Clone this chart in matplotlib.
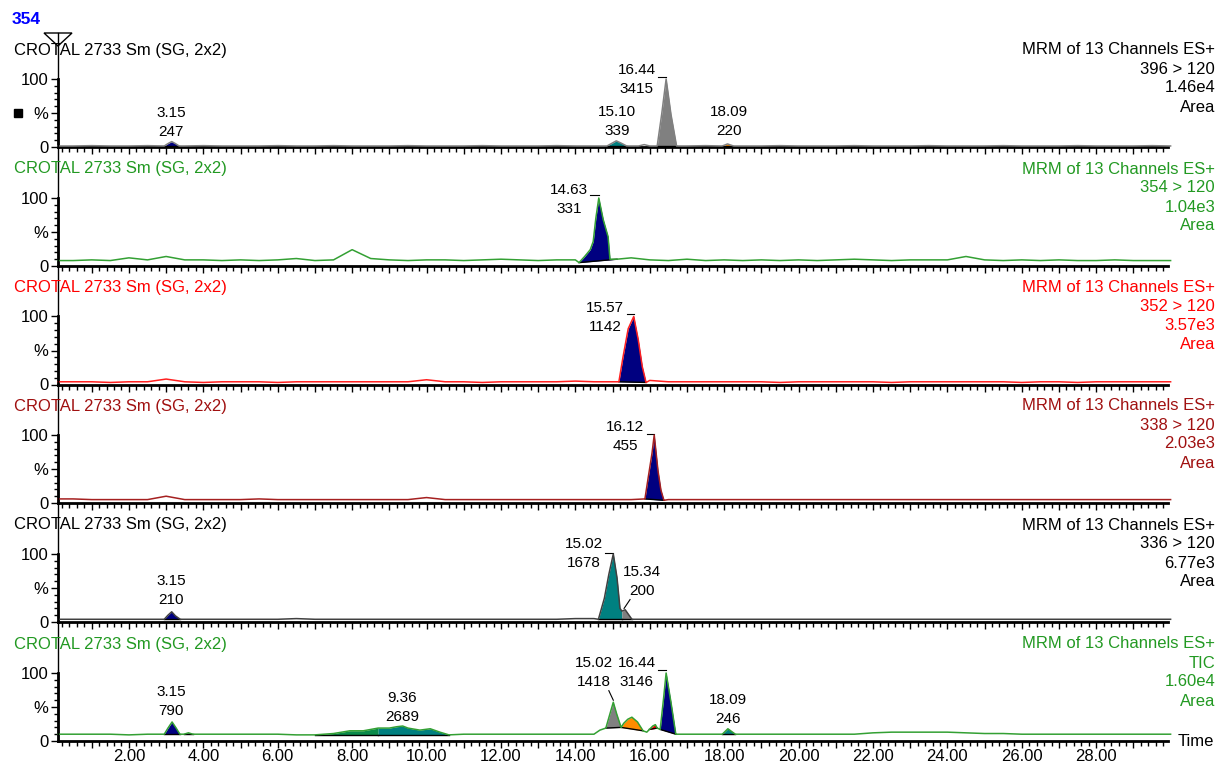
import matplotlib
matplotlib.use('Agg')
import matplotlib.pyplot as plt
from matplotlib.ticker import MultipleLocator, FuncFormatter
import numpy as np

plt.rcParams['font.family'] = ['Liberation Sans', 'DejaVu Sans']
plt.rcParams['font.size'] = 12

# DATA

time_grid = [0.1, 0.5, 1.0, 1.5, 2.0, 2.5, 3.0, 3.5, 4.0, 4.5,
             5.0, 5.5, 6.0, 6.5, 7.0, 7.5, 8.0, 8.5, 9.0, 9.5,
             10.0, 10.5, 11.0, 11.5, 12.0, 12.5, 13.0, 13.5, 14.0, 14.5,
             15.0, 15.5, 16.0, 16.5, 17.0, 17.5, 18.0, 18.5, 19.0, 19.5,
             20.0, 20.5, 21.0, 21.5, 22.0, 22.5, 23.0, 23.5, 24.0, 24.5,
             25.0, 25.5, 26.0, 26.5, 27.0, 27.5, 28.0, 28.5, 29.0, 29.5,
             30.0]

sample_name = 'CROTAL 2733 Sm (SG, 2x2)'
scan_name = 'MRM of 13 Channels ES+'

# panel 1: 396 > 120
p1_base = [1.5, 1.5, 2, 1.5, 1.5, 2, 1.5, 1.5, 2, 1.5,
           1.5, 1.5, 2, 1.5, 1.5, 2, 1.5, 1.5, 1.5, 2,
           1.5, 1.5, 1.5, 2, 1.5, 1.5, 1.5, 2, 1.5, 1.5,
           1.5, 1.5, 1.5, 1.5, 1.5, 2, 1.5, 1.5, 1.5, 2,
           1.5, 1.5, 1.5, 2, 1.5, 1.5, 1.5, 2, 1.5, 1.5,
           1.5, 2, 1.5, 1.5, 1.5, 2, 1.5, 1.5, 1.5, 2,
           1.5]
p1_peaks = [([2.95, 3.05, 3.15, 3.25, 3.35], [1.5, 5, 8, 5, 1.5]),
            ([14.85, 15.0, 15.1, 15.22, 15.38], [1.5, 6, 9, 6, 1.5]),
            ([15.7, 15.85, 16.0], [1.5, 3.5, 1.5]),
            ([16.2, 16.32, 16.44, 16.57, 16.72], [1.5, 48, 100, 48, 1.5]),
            ([17.95, 18.09, 18.25], [1.5, 4.5, 1.5])]
p1_rt = ['3.15', '15.10', '16.44', '18.09']
p1_area = ['247', '339', '3415', '220']

# panel 2: 354 > 120
p2_base = [8, 8, 9, 8, 12, 9, 14, 9, 9, 8,
           9, 8, 9, 11, 8, 9, 24, 11, 9, 8,
           9, 9, 8, 9, 10, 9, 8, 9, 9, 9,
           10, 12, 9, 8, 10, 8, 9, 8, 9, 8,
           9, 8, 9, 10, 9, 8, 9, 9, 9, 14,
           9, 8, 9, 8, 9, 8, 8, 9, 8, 8,
           8]
p2_peaks = [([14.1, 14.25, 14.4, 14.48, 14.55, 14.63, 14.75, 14.88, 14.93, 15.12],
             [5, 14, 24, 36, 70, 100, 68, 43, 10, 10])]
p2_rt = ['14.63']
p2_area = ['331']

# panel 3: 352 > 120
p3_base = [4, 4, 4, 3, 4, 4, 8, 4, 3, 4,
           4, 4, 3, 4, 4, 4, 4, 4, 4, 4,
           7, 4, 4, 3, 4, 4, 4, 4, 5, 4,
           4, 4, 6, 4, 4, 4, 4, 4, 4, 3,
           4, 4, 4, 4, 4, 3, 4, 4, 4, 4,
           4, 4, 3, 4, 4, 3, 4, 4, 4, 4,
           4]
p3_peaks = [([15.17, 15.28, 15.42, 15.57, 15.69, 15.8, 15.9], [4, 40, 82, 100, 66, 26, 3])]
p3_rt = ['15.57']
p3_area = ['1142']

# panel 4: 338 > 120
p4_base = [6, 6, 5, 5, 5, 5, 10, 5, 5, 5,
           5, 6, 5, 5, 5, 5, 5, 5, 5, 5,
           8, 5, 5, 5, 5, 5, 5, 5, 5, 5,
           5, 5, 6, 5, 5, 5, 5, 5, 5, 5,
           5, 5, 5, 5, 5, 5, 5, 5, 5, 5,
           5, 5, 5, 5, 5, 5, 5, 5, 5, 5,
           5]
p4_peaks = [([15.87, 15.96, 16.06, 16.12, 16.22, 16.3, 16.38], [6, 38, 73, 100, 48, 19, 4])]
p4_rt = ['16.12']
p4_area = ['455']

# panel 5: 336 > 120
p5_base = [4, 4, 4, 4, 4, 4, 4, 4, 4, 4,
           4, 4, 4, 5, 4, 4, 4, 4, 4, 4,
           4, 4, 4, 4, 4, 4, 4, 4, 5, 5,
           4, 4, 4, 4, 4, 4, 4, 4, 4, 4,
           4, 4, 4, 4, 4, 4, 4, 4, 4, 4,
           4, 4, 4, 4, 4, 4, 4, 4, 4, 4,
           4]
p5_peaks = [([2.95, 3.05, 3.15, 3.25, 3.38], [4, 10, 15, 9, 4]),
            ([14.62, 14.78, 14.9, 15.02, 15.12, 15.2, 15.25, 15.34, 15.52],
             [4, 35, 70, 100, 65, 20, 16, 18, 4])]
p5_rt = ['3.15', '15.02', '15.34']
p5_area = ['210', '1678', '200']

# panel 6: TIC
p6_base = [10, 10, 10, 10, 9, 10, 10, 10, 10, 10,
           10, 10, 10, 9, 9, 9, 9, 9, 9, 9,
           9, 9, 10, 10, 10, 10, 10, 10, 10, 11,
           12, 14, 13, 11, 10, 10, 10, 10, 10, 10,
           10, 10, 10, 10, 12, 13, 13, 13, 13, 12,
           11, 11, 10, 10, 10, 10, 10, 10, 10, 10,
           10]
p6_peaks = [([2.95, 3.05, 3.16, 3.27, 3.37], [10, 19, 28, 19, 10]),
            ([3.48, 3.6, 3.72], [10, 12, 10]),
            ([7.0, 7.5, 7.94, 8.3, 8.7, 9.0, 9.2, 9.36, 9.5, 9.82, 10.1, 10.36, 10.6],
             [9, 11, 15, 15, 19, 19, 21, 22, 19, 16, 18, 13, 9]),
            ([14.5, 14.66, 14.82, 14.93, 15.02, 15.11, 15.23, 15.3, 15.41, 15.52, 15.67,
              15.82, 15.92, 15.99, 16.08, 16.15, 16.2, 16.28, 16.37, 16.44, 16.57, 16.7, 16.8],
             [10, 16, 19, 40, 57, 40, 20, 26, 32, 35, 28,
              15, 13, 17, 22, 24, 19, 17, 62, 100, 57, 10, 10]),
            ([17.95, 18.1, 18.3], [10, 18, 10])]
p6_rt = ['3.15', '9.36', '15.02', '16.44', '18.09']
p6_area = ['790', '2689', '1418', '3146', '246']

channels = ['396 > 120', '354 > 120', '352 > 120', '338 > 120', '336 > 120', 'TIC']
intensities = ['1.46e4', '1.04e3', '3.57e3', '2.03e3', '6.77e3', '1.60e4']

# LAYOUT / STYLE

NAVY, TEAL, GRAY, ORANGE, RED, DKGREEN = '#000080', '#008080', '#808080', '#ff8c00', '#ff0000', '#0a8a4a'

panels = [
    dict(base=p1_base, peaks=p1_peaks, rt=p1_rt, area=p1_area,
         line='#808080', text='black',
         fills=[(2.95, 3.35, NAVY, 2.95, 3.35), (14.85, 15.38, TEAL, 14.85, 15.38),
                (16.2, 16.72, GRAY, 16.2, 16.72), (17.95, 18.25, ORANGE, 17.95, 18.25)],
         label_xy=[(3.13, 50), (15.12, 51.5), (15.65, 113), (18.13, 51.5)],
         leaders=[((16.22, 103), (16.44, 103))]),
    dict(base=p2_base, peaks=p2_peaks, rt=p2_rt, area=p2_area,
         line='#33a033', text='#229922',
         fills=[(14.1, 15.12, NAVY, 14.1, 15.12)],
         label_xy=[(13.84, 112)],
         leaders=[((14.4, 104), (14.63, 104))]),
    dict(base=p3_base, peaks=p3_peaks, rt=p3_rt, area=p3_area,
         line='#ff2020', text='#ff0000',
         fills=[(15.17, 15.9, NAVY, 15.17, 15.9)],
         label_xy=[(14.8, 112)],
         leaders=[((15.39, 103), (15.57, 103))]),
    dict(base=p4_base, peaks=p4_peaks, rt=p4_rt, area=p4_area,
         line='#a52020', text='#a01010',
         fills=[(15.87, 16.38, NAVY, 15.87, 16.38)],
         label_xy=[(15.34, 112)],
         leaders=[((15.93, 101), (16.12, 101))]),
    dict(base=p5_base, peaks=p5_peaks, rt=p5_rt, area=p5_area,
         line='#404040', text='black',
         fills=[(2.95, 3.38, NAVY, 2.95, 3.38), (14.62, 15.25, TEAL, 14.62, 15.52),
                (15.25, 15.52, GRAY, 14.62, 15.52)],
         label_xy=[(3.13, 61), (14.22, 115), (15.8, 73)],
         leaders=[((14.8, 101), (15.02, 101)), ((15.47, 33), (15.31, 20))]),
    dict(base=p6_base, peaks=p6_peaks, rt=p6_rt, area=p6_area,
         line='#33a033', text='#229922',
         fills=[(2.95, 3.37, NAVY, 2.95, 3.37), (3.48, 3.72, NAVY, 3.48, 3.72),
                (7.0, 8.7, DKGREEN, 7.0, 10.6), (8.7, 10.6, TEAL, 7.0, 10.6),
                (14.82, 15.23, GRAY, 14.82, 15.23), (15.23, 15.82, ORANGE, 15.23, 15.82),
                (15.99, 16.2, RED, 15.99, 16.2), (16.28, 16.7, NAVY, 16.28, 16.7),
                (17.95, 18.3, TEAL, 17.95, 18.3)],
         label_xy=[(3.13, 72), (9.34, 63), (14.51, 115), (15.65, 115), (18.1, 60)],
         leaders=[((14.9, 74), (15.02, 60)), ((16.22, 104), (16.44, 104))]),
]

W, H = 1220, 767
base_px = [147, 266, 384.5, 503, 622, 741]
ax_left, ax_right = 58, 1168
px_per_pct = 0.68


def build_trace(base, peaks):
    pts = [(t, v) for t, v in zip(time_grid, base)
           if not any(pt[0] <= t <= pt[-1] for pt, _ in peaks)]
    for pt, pv in peaks:
        pts += list(zip(pt, pv))
    pts.sort()
    return np.array([p[0] for p in pts]), np.array([p[1] for p in pts])


def value_at(tt, yy, t):
    return yy[np.argmin(np.abs(tt - t))]


fig = plt.figure(figsize=(W / 100, H / 100), dpi=100)

for i, p in enumerate(panels):
    b = base_px[i]
    ax = fig.add_axes([ax_left / W, 1 - b / H, (ax_right - ax_left) / W, 100 * px_per_pct / H])
    ax.set_xlim(0.094, 29.93)
    ax.set_ylim(0, 100)
    ax.patch.set_visible(False)

    tt, yy = build_trace(p['base'], p['peaks'])
    for lo, hi, color, b0, b1 in p['fills']:
        m = (tt >= lo - 1e-9) & (tt <= hi + 1e-9)
        y0, y1 = value_at(tt, yy, b0), value_at(tt, yy, b1)
        yb = y0 + (y1 - y0) * (tt[m] - b0) / (b1 - b0)
        ax.fill_between(tt[m], yy[m], yb, color=color, lw=0, zorder=2)
        ax.plot(tt[m], yb, color='black', lw=1, zorder=2.2)
    ax.plot(tt, yy, color=p['line'], lw=1.1, zorder=3, clip_on=False)

    for (x, y), rt, area in zip(p['label_xy'], p['rt'], p['area']):
        ax.text(x, y, rt, ha='center', va='center', fontsize=11, clip_on=False)
        ax.text(x, y - 28, area, ha='center', va='center', fontsize=11, clip_on=False)
    for (x0, y0), (x1, y1) in p['leaders']:
        ax.plot([x0, x1], [y0, y1], color='black', lw=0.8, clip_on=False)

    for s in ['top', 'right']:
        ax.spines[s].set_visible(False)
    ax.spines['left'].set_linewidth(2)
    ax.spines['left'].set_bounds(0, 100)
    ax.spines['bottom'].set_linewidth(2)

    ax.set_yticks([0, 50, 100])
    ax.set_yticklabels(['0', '%', '100'])
    ax.yaxis.set_minor_locator(MultipleLocator(10))
    ax.tick_params(axis='y', which='major', length=5, width=1, pad=2, labelsize=12)
    ax.tick_params(axis='y', which='minor', length=3, width=1)

    ax.xaxis.set_major_locator(MultipleLocator(1))
    ax.xaxis.set_minor_locator(MultipleLocator(0.2))
    ax.tick_params(axis='x', which='major', length=5, width=1, pad=0.5, labelsize=12)
    ax.tick_params(axis='x', which='minor', length=3.5, width=1)
    if i == len(panels) - 1:
        ax.xaxis.set_major_formatter(FuncFormatter(
            lambda x, pos: f'{x:.2f}' if int(round(x)) % 2 == 0 else ''))
    else:
        ax.set_xticklabels([])

# overlay in pixel coordinates for headers and the cursor
ov = fig.add_axes([0, 0, 1, 1], zorder=10)
ov.set_xlim(0, W)
ov.set_ylim(H, 0)
ov.axis('off')
ov.patch.set_visible(False)

ov.text(12, 20, '354', color='#0000ff', fontsize=12.5, fontweight='bold', ha='left', va='center')
ov.add_patch(plt.Polygon([(44, 33), (72, 33), (58, 46)], closed=True, fill=False,
                         edgecolor='black', lw=1))
ov.plot([58, 58], [33, 741], color='black', lw=1)
ov.plot([18], [113], marker='s', color='black', markersize=6)
ov.text(1178, 742, 'Time', ha='left', va='center', fontsize=12)

for i, p in enumerate(panels):
    b = base_px[i]
    ov.text(14, b - 97, sample_name, color=p['text'], ha='left', va='center', fontsize=12)
    for k, s in enumerate([scan_name, channels[i], intensities[i], 'Area']):
        ov.text(1215, b - 97 + 19 * k, s, color=p['text'], ha='right', va='center', fontsize=12)

fig.savefig('out.png', dpi=100)
